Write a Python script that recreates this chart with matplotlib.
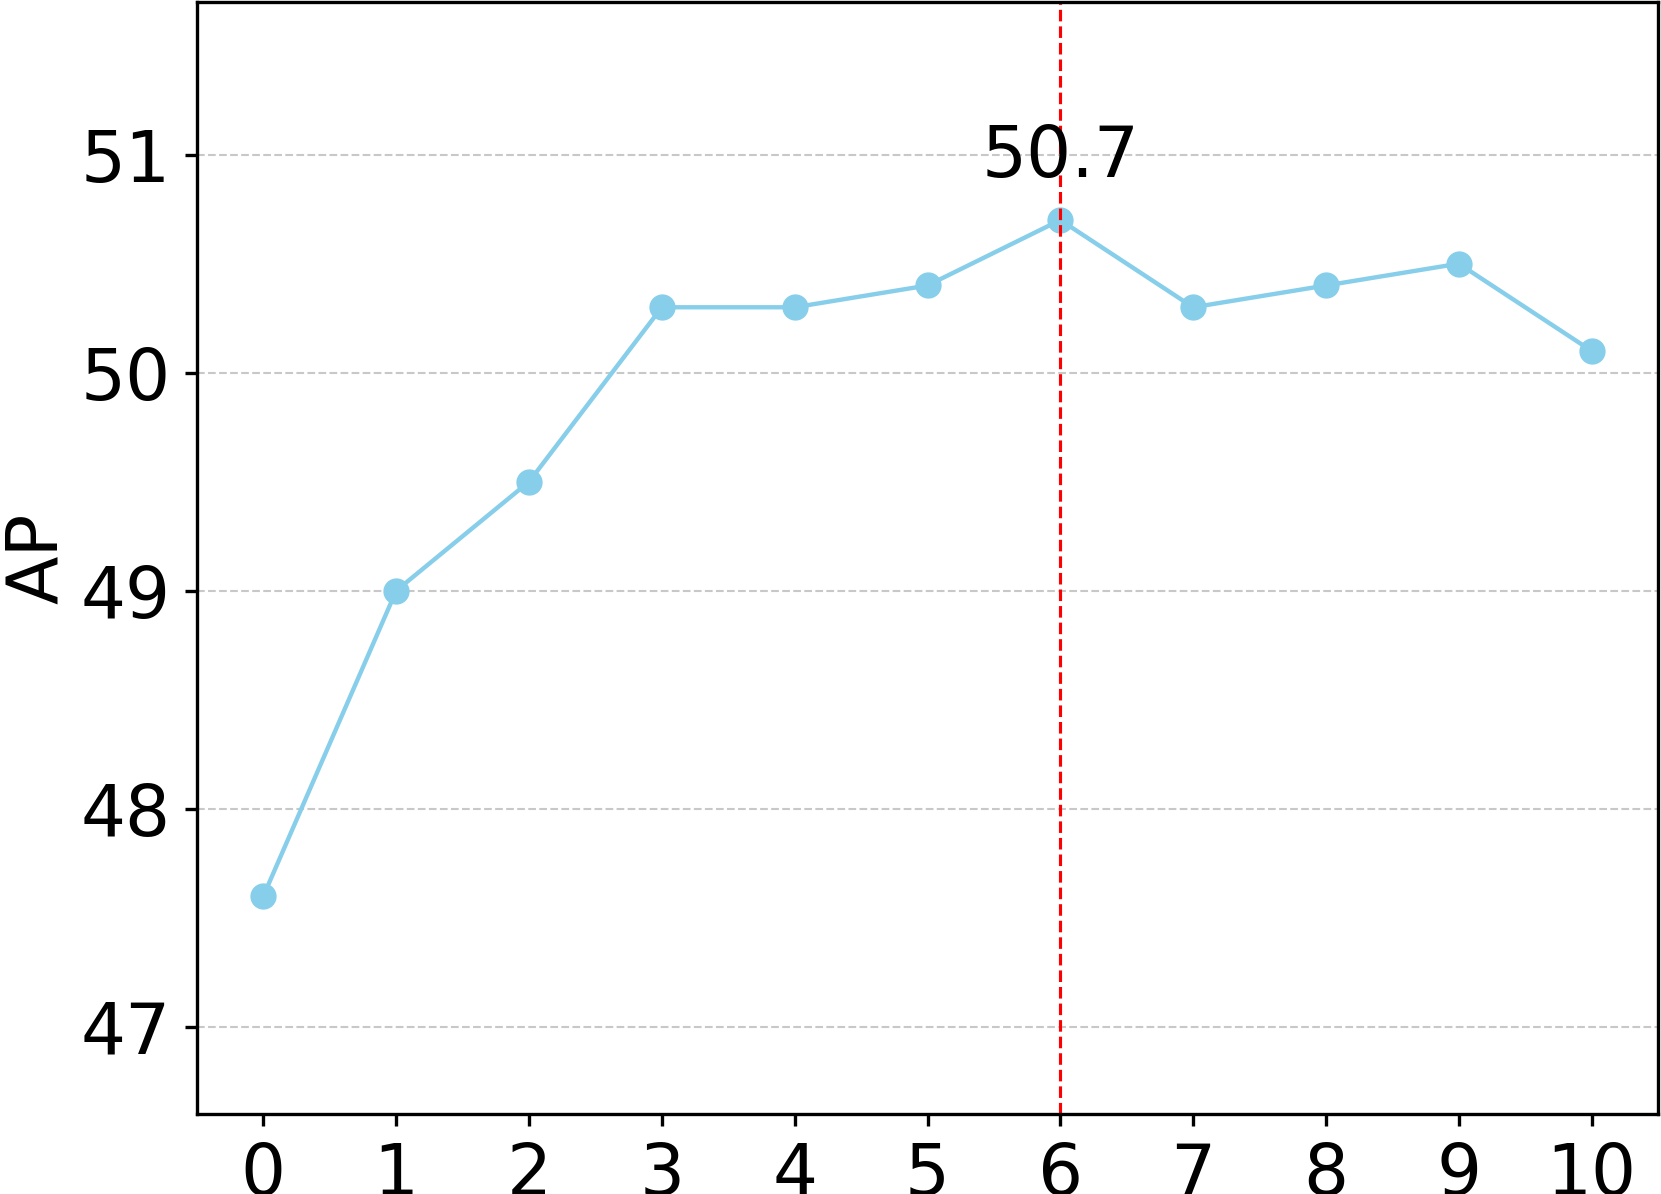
import matplotlib
matplotlib.use('Agg')
import matplotlib.pyplot as plt

# number of layers vs AP
layers = [0, 1, 2, 3, 4, 5, 6, 7, 8, 9, 10]
ap = [47.6, 49.0, 49.5, 50.3, 50.3, 50.4, 50.7, 50.3, 50.4, 50.5, 50.1]
best_idx = 6
yticks = [47, 48, 49, 50, 51]

fs = 17
dpi = 300
fig = plt.figure(figsize=(1661 / dpi, 1194 / dpi), dpi=dpi)
ax = fig.add_axes([0.1186, 0.067, 0.8796, 0.9313])

ax.plot(layers, ap, color='skyblue', marker='o', linewidth=1.05,
        markersize=5.3)
ax.axvline(layers[best_idx], color='red', linestyle='--', linewidth=0.75)
ax.text(layers[best_idx], ap[best_idx] + 0.13, '%.1f' % ap[best_idx],
        ha='center', va='bottom', fontsize=fs)

ax.set_xlim(-0.5, 10.5)
ax.set_ylim(min(ap) - 1, max(ap) + 1)
ax.set_xticks(layers)
ax.set_yticks(yticks)
ax.tick_params(labelsize=fs, length=2.9, width=0.8)
ax.set_ylabel('AP', fontsize=fs, labelpad=2)
ax.yaxis.grid(True, linestyle='--', color='#bbbbbb', linewidth=0.5, alpha=0.8)
ax.set_axisbelow(True)

fig.savefig('out.png', dpi=dpi)
